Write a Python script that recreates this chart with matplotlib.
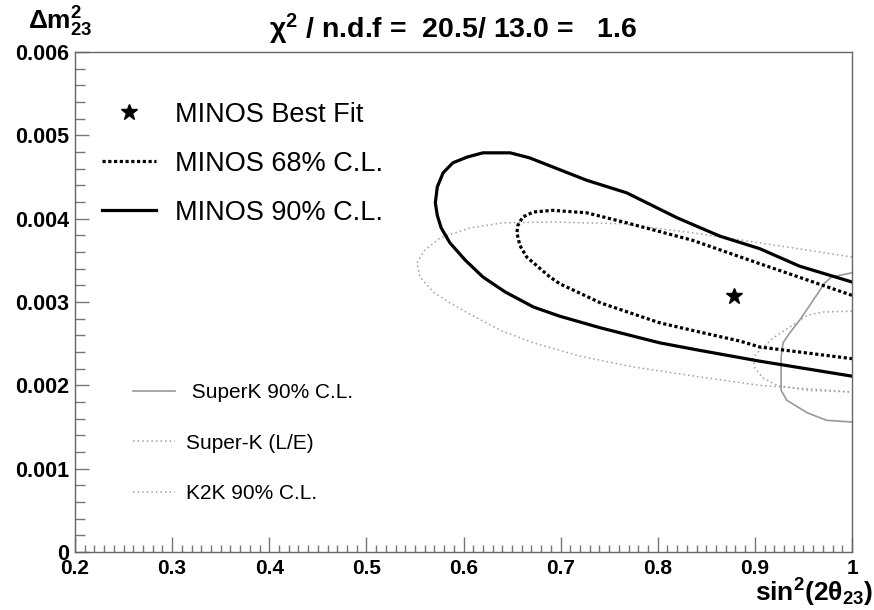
############################################### Import modules #########################################################
import matplotlib
matplotlib.use('Agg')
import matplotlib.pyplot as plt
from matplotlib.lines import Line2D
from matplotlib.ticker import MultipleLocator, FixedLocator

###################################################### Data ############################################################
# MINOS 90% C.L. contour (sin^2(2theta), dm^2 in 1e-3 eV^2)
minos90_x = [1.0, 0.946, 0.905, 0.864, 0.820, 0.768, 0.727, 0.692, 0.668, 0.648, 0.620, 0.604, 0.589, 0.579,
             0.573, 0.571, 0.573, 0.577, 0.586, 0.602, 0.620, 0.643, 0.672, 0.699, 0.741, 0.802, 0.843, 0.905, 1.0]
minos90_y = [3.24, 3.43, 3.64, 3.79, 4.01, 4.31, 4.46, 4.62, 4.73, 4.79, 4.79, 4.74, 4.67, 4.55,
             4.38, 4.19, 4.04, 3.89, 3.71, 3.50, 3.30, 3.12, 2.94, 2.83, 2.69, 2.51, 2.42, 2.29, 2.11]

# MINOS 68% C.L. contour
minos68_x = [1.0, 0.895, 0.836, 0.768, 0.727, 0.692, 0.672, 0.661, 0.656, 0.655, 0.658, 0.665, 0.689,
             0.699, 0.741, 0.802, 0.843, 0.885, 0.905, 1.0]
minos68_y = [3.08, 3.50, 3.74, 3.95, 4.07, 4.10, 4.08, 4.02, 3.92, 3.83, 3.68, 3.54, 3.30,
             3.22, 2.99, 2.75, 2.64, 2.53, 2.46, 2.32]

# MINOS best fit
best_x = [0.878]
best_y = [3.07]

# K2K 90% C.L.
k2k_x = [1.0, 0.905, 0.836, 0.761, 0.692, 0.641, 0.607, 0.576, 0.560, 0.552, 0.555, 0.569, 0.586, 0.604,
         0.638, 0.672, 0.720, 0.775, 0.844, 0.905, 1.0]
k2k_y = [3.54, 3.71, 3.83, 3.94, 3.96, 3.95, 3.89, 3.77, 3.62, 3.47, 3.30, 3.12, 2.99, 2.87,
         2.66, 2.51, 2.35, 2.22, 2.10, 2.00, 1.92]

# SuperK 90% C.L.
superk_x = [1.0, 0.979, 0.972, 0.960, 0.946, 0.936, 0.929, 0.927, 0.927, 0.927, 0.933, 0.954, 0.974, 1.0]
superk_y = [3.35, 3.30, 3.23, 3.02, 2.78, 2.63, 2.51, 2.34, 2.18, 1.94, 1.82, 1.67, 1.58, 1.56]

# Super-K (L/E)
skle_x = [1.0, 0.970, 0.954, 0.936, 0.919, 0.905, 0.898, 0.900, 0.908, 0.923, 0.954, 1.0]
skle_y = [2.89, 2.88, 2.84, 2.70, 2.57, 2.42, 2.33, 2.21, 2.09, 2.00, 1.94, 1.92]

x_ticks = [0.2, 0.3, 0.4, 0.5, 0.6, 0.7, 0.8, 0.9, 1.0]
x_ticklabels = ['0.2', '0.3', '0.4', '0.5', '0.6', '0.7', '0.8', '0.9', '1']
y_ticks = [0, 0.001, 0.002, 0.003, 0.004, 0.005, 0.006]
y_ticklabels = ['0', '0.001', '0.002', '0.003', '0.004', '0.005', '0.006']

def scale(v):
    return [i * 1e-3 for i in v]

##################################################### Figure ###########################################################
plt.rcParams['font.family'] = ['Liberation Sans', 'DejaVu Sans']
plt.rcParams['mathtext.fontset'] = 'custom'
plt.rcParams['mathtext.rm'] = 'Liberation Sans:bold'
plt.rcParams['mathtext.bf'] = 'Liberation Sans:bold'
plt.rcParams['mathtext.it'] = 'Liberation Sans:bold:italic'

fig = plt.figure(figsize=(8.74, 6.10), dpi=100)
ax = fig.add_axes([75 / 874, 1 - 552 / 610, 777 / 874, 500 / 610])

grey = '#a0a0a0'
ax.plot(k2k_x, scale(k2k_y), color=grey, lw=1.1, ls=(0, (1, 2)))
ax.plot(skle_x, scale(skle_y), color=grey, lw=1.1, ls=(0, (1, 2)))
ax.plot(superk_x, scale(superk_y), color='#999999', lw=1.2, ls='-')
ax.plot(minos90_x, scale(minos90_y), color='black', lw=2.3, ls='-')
ax.plot(minos68_x, scale(minos68_y), color='black', lw=2.3, ls=(0, (1, 0.8)))
ax.plot(best_x, scale(best_y), ls='none', marker='*', ms=12, color='black')

ax.set_xlim(0.2, 1.0)
ax.set_ylim(0, 0.006)

ax.xaxis.set_major_locator(FixedLocator(x_ticks))
ax.set_xticklabels(x_ticklabels)
ax.xaxis.set_minor_locator(MultipleLocator(0.01))
ax.yaxis.set_major_locator(FixedLocator(y_ticks))
ax.set_yticklabels(y_ticklabels)
ax.yaxis.set_minor_locator(MultipleLocator(0.0002))

ax.tick_params(which='both', direction='in', color='#777777', top=False, right=False)
ax.tick_params(axis='x', which='major', length=11, width=1, pad=5, labelsize=15)
ax.tick_params(axis='x', which='minor', length=5, width=1)
ax.tick_params(axis='y', which='major', length=10, width=1, pad=4, labelsize=15.5)
ax.tick_params(axis='y', which='minor', length=7, width=1)
for lab in ax.get_xticklabels() + ax.get_yticklabels():
    lab.set_fontweight('bold')
for sp in ax.spines.values():
    sp.set_color('#666666')
    sp.set_linewidth(1.0)

# axis titles in ROOT style
fig.text(28 / 874, 1 - 22 / 610, r'$\Delta$m$^{2}_{23}$', fontsize=19, fontweight='bold', ha='left', va='center')
fig.text(873 / 874, 1 - 593 / 610, 'sin$^{2}$(2θ$_{23}$)', fontsize=19, fontweight='bold',
         ha='right', va='center')
fig.text(453 / 874, 1 - 29 / 610, 'χ$^{2}$ / n.d.f =  20.5/ 13.0 =   1.6', fontsize=20.5,
         fontweight='bold', ha='center', va='center')

##################################################### Legends ##########################################################
h_top = [Line2D([], [], ls='none', marker='*', ms=12, color='black'),
         Line2D([], [], color='black', lw=2.3, ls=(0, (1, 0.8))),
         Line2D([], [], color='black', lw=2.3, ls='-')]
leg1 = ax.legend(h_top, ['MINOS Best Fit', 'MINOS 68% C.L.', 'MINOS 90% C.L.'], loc='upper left',
                 bbox_to_anchor=(88 / 874, 1 - 88 / 610), bbox_transform=fig.transFigure, frameon=False,
                 fontsize=19.5, handlelength=2.0, handletextpad=0.7, labelspacing=0.85, borderpad=0)
ax.add_artist(leg1)

h_bot = [Line2D([], [], color='#999999', lw=1.2, ls='-'),
         Line2D([], [], color=grey, lw=1.1, ls=(0, (1, 2))),
         Line2D([], [], color=grey, lw=1.1, ls=(0, (1, 2)))]
ax.legend(h_bot, [' SuperK 90% C.L.', 'Super-K (L/E)', 'K2K 90% C.L.'], loc='upper left',
          bbox_to_anchor=(123 / 874, 1 - 373 / 610), bbox_transform=fig.transFigure, frameon=False,
          fontsize=15, handlelength=2.0, handletextpad=0.5, labelspacing=1.5, borderpad=0)

fig.savefig('out.png', dpi=100)
